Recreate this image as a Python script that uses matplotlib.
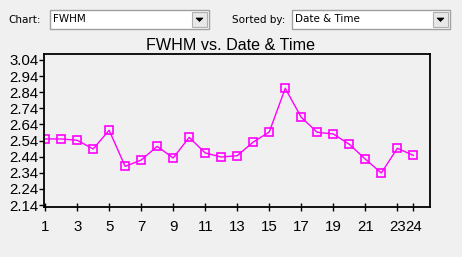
import matplotlib
matplotlib.use("Agg")
import matplotlib.pyplot as plt
from matplotlib.patches import Rectangle, Polygon

# ---- data ----
x_vals = list(range(1, 25))
fwhm = [2.550, 2.550, 2.542, 2.488, 2.604, 2.380, 2.419, 2.504, 2.432, 2.560,
        2.463, 2.438, 2.446, 2.531, 2.593, 2.864, 2.684, 2.591, 2.581, 2.517,
        2.425, 2.339, 2.492, 2.448]
x_ticks = [1, 3, 5, 7, 9, 11, 13, 15, 17, 19, 21, 23, 24]
y_ticks = [2.14, 2.24, 2.34, 2.44, 2.54, 2.64, 2.74, 2.84, 2.94, 3.04]
title = "FWHM vs. Date & Time"
chart_label, chart_value = "Chart:", "FWHM"
sort_label, sort_value = "Sorted by:", "Date & Time"

W, H = 462, 257
bg = "#F0F0F0"
plt.rcParams['font.family'] = ['Liberation Sans', 'DejaVu Sans']

fig = plt.figure(figsize=(W / 100, H / 100), dpi=100, facecolor=bg)


def px(x, y):
    return x / W, 1 - y / H


def combo(x0, y0, x1, y1, text):
    fx0, fy1 = px(x0, y0)
    fx1, fy0 = px(x1, y1)
    fig.patches.append(Rectangle((fx0, fy0), fx1 - fx0, fy1 - fy0, transform=fig.transFigure,
                                 facecolor="white", edgecolor="#A0A0A0", linewidth=1))
    bx0, by1 = px(x1 - 17, y0 + 2)
    bx1, by0 = px(x1 - 2, y1 - 2)
    fig.patches.append(Rectangle((bx0, by0), bx1 - bx0, by1 - by0, transform=fig.transFigure,
                                 facecolor="#E8E8E8", edgecolor="#B0B0B0", linewidth=0.8))
    cx = (x1 - 17 + x1 - 2) / 2
    cy = (y0 + y1) / 2
    tri = [px(cx - 3.5, cy - 1.5), px(cx + 3.5, cy - 1.5), px(cx, cy + 2)]
    fig.patches.append(Polygon(tri, closed=True, transform=fig.transFigure,
                               facecolor="black", edgecolor="black", linewidth=0.5))
    tx, ty = px(x0 + 3, cy)
    fig.text(tx, ty, text, fontsize=7.5, va="center", ha="left", color="black",
             family=['DejaVu Sans'])


# top controls
tx, ty = px(8, 20)
fig.text(tx, ty, chart_label, fontsize=7.5, va="center", ha="left", family=['DejaVu Sans'])
combo(50, 10, 209, 29, chart_value)
tx, ty = px(232, 20)
fig.text(tx, ty, sort_label, fontsize=7.5, va="center", ha="left", family=['DejaVu Sans'])
combo(292, 10, 450, 29, sort_value)

# title
tx, ty = px(230, 46)
fig.text(tx, ty, title, fontsize=11.6, ha="center", va="center", color="black")

# axes
l, t = px(44.3, 54)
r, b = px(430.3, 206.5)
ax = fig.add_axes([l, b, r - l, t - b])
ax.set_facecolor(bg)
ax.plot(x_vals, fwhm, color="#FF00FF", linewidth=1, marker="s", markersize=6,
        markerfacecolor="none", markeredgecolor="#FF00FF", markeredgewidth=1.2)
ax.set_xlim(0.95, 25.06)
ax.set_ylim(2.131, 3.077)
ax.set_xticks(x_ticks)
ax.set_xticklabels([str(v) for v in x_ticks])
ax.set_yticks(y_ticks)
ax.set_yticklabels([f"{v:.2f}" for v in y_ticks])
for s in ax.spines.values():
    s.set_linewidth(1.3)
    s.set_color("black")
ax.tick_params(axis="y", direction="out", length=3.5, width=1, pad=0.5, labelsize=10.8)
ax.tick_params(axis="x", direction="inout", length=6, width=1, pad=7, labelsize=10.8)

fig.savefig("out.png", dpi=100, facecolor=bg)
